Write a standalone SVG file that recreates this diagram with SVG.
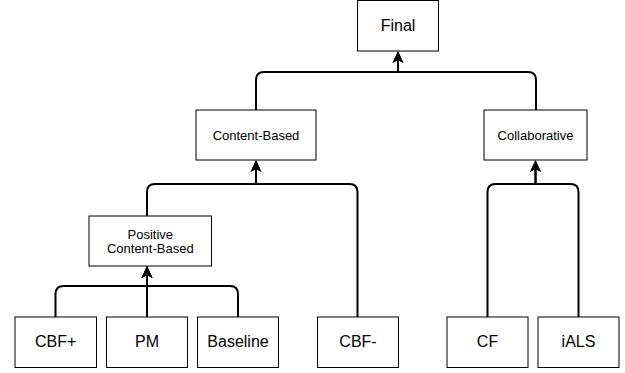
<svg xmlns="http://www.w3.org/2000/svg" width="625" height="373" viewBox="0 0 625 373">
<style>
.box{fill:#fff;stroke:#000;stroke-width:1}
.t16{font-family:"Liberation Sans",Arial,sans-serif;font-size:16px;text-anchor:middle;fill:#000}
.t13{font-family:"Liberation Sans",Arial,sans-serif;font-size:13px;text-anchor:middle;fill:#000}
.edge{fill:none;stroke:#000;stroke-width:2}
</style>
<defs>
<marker id="arr" viewBox="0 -6 12 12" refX="4" refY="0" markerWidth="12" markerHeight="12" markerUnits="userSpaceOnUse" orient="auto">
<path d="M12,0 L0,-5.5 L3,0 L0,5.5 Z" fill="#000"/>
</marker>
</defs>
<g id="connectors">
<path class="edge" marker-end="url(#arr)" d="M55.5,317 V294 Q55.5,286 63.5,286 H147 V274"/>
<path class="edge" marker-end="url(#arr)" d="M147,317 V274"/>
<path class="edge" marker-end="url(#arr)" d="M238,317 V294 Q238,286 230,286 H147 V274"/>
<path class="edge" marker-end="url(#arr)" d="M147,216 V192 Q147,184 155,184 H256 V168"/>
<path class="edge" marker-end="url(#arr)" d="M357.5,317 V192 Q357.5,184 349.5,184 H256 V168"/>
<path class="edge" marker-end="url(#arr)" d="M256,110 V80 Q256,72 264,72 H398 V59"/>
<path class="edge" marker-end="url(#arr)" d="M536,110 V80 Q536,72 528,72 H398 V59"/>
<path class="edge" marker-end="url(#arr)" d="M487.5,317 V192 Q487.5,184 495.5,184 H535.5 V168"/>
<path class="edge" marker-end="url(#arr)" d="M578.5,317 V192 Q578.5,184 570.5,184 H535.5 V168"/>
</g>
<g id="final"><rect class="box" x="357.5" y="0.5" width="81" height="50.5"/><text class="t16" x="398" y="31">Final</text></g>
<g id="content-based"><rect class="box" x="196" y="110" width="120" height="50"/><text class="t13" x="256" y="139.5">Content-Based</text></g>
<g id="collaborative"><rect class="box" x="484" y="110" width="103" height="50"/><text class="t13" x="535.5" y="139.5">Collaborative</text></g>
<g id="positive"><rect class="box" x="89" y="216" width="122.5" height="50"/><text class="t13" x="150.3" y="238.7">Positive</text><text class="t13" x="150.3" y="252.7">Content-Based</text></g>
<g id="cbfplus"><rect class="box" x="15" y="317" width="81.5" height="50.5"/><text class="t16" x="55.7" y="346.7">CBF+</text></g>
<g id="pm"><rect class="box" x="106.5" y="317" width="81" height="50.5"/><text class="t16" x="147" y="346.7">PM</text></g>
<g id="baseline"><rect class="box" x="197.5" y="317" width="81" height="50.5"/><text class="t16" x="238" y="346.7">Baseline</text></g>
<g id="cbfminus"><rect class="box" x="317.5" y="317" width="81" height="50.5"/><text class="t16" x="358" y="346.7">CBF-</text></g>
<g id="cf"><rect class="box" x="447" y="317" width="81" height="50.5"/><text class="t16" x="487.5" y="346.7">CF</text></g>
<g id="ials"><rect class="box" x="538" y="317" width="81" height="50.5"/><text class="t16" x="578.5" y="346.7">iALS</text></g>
</svg>
